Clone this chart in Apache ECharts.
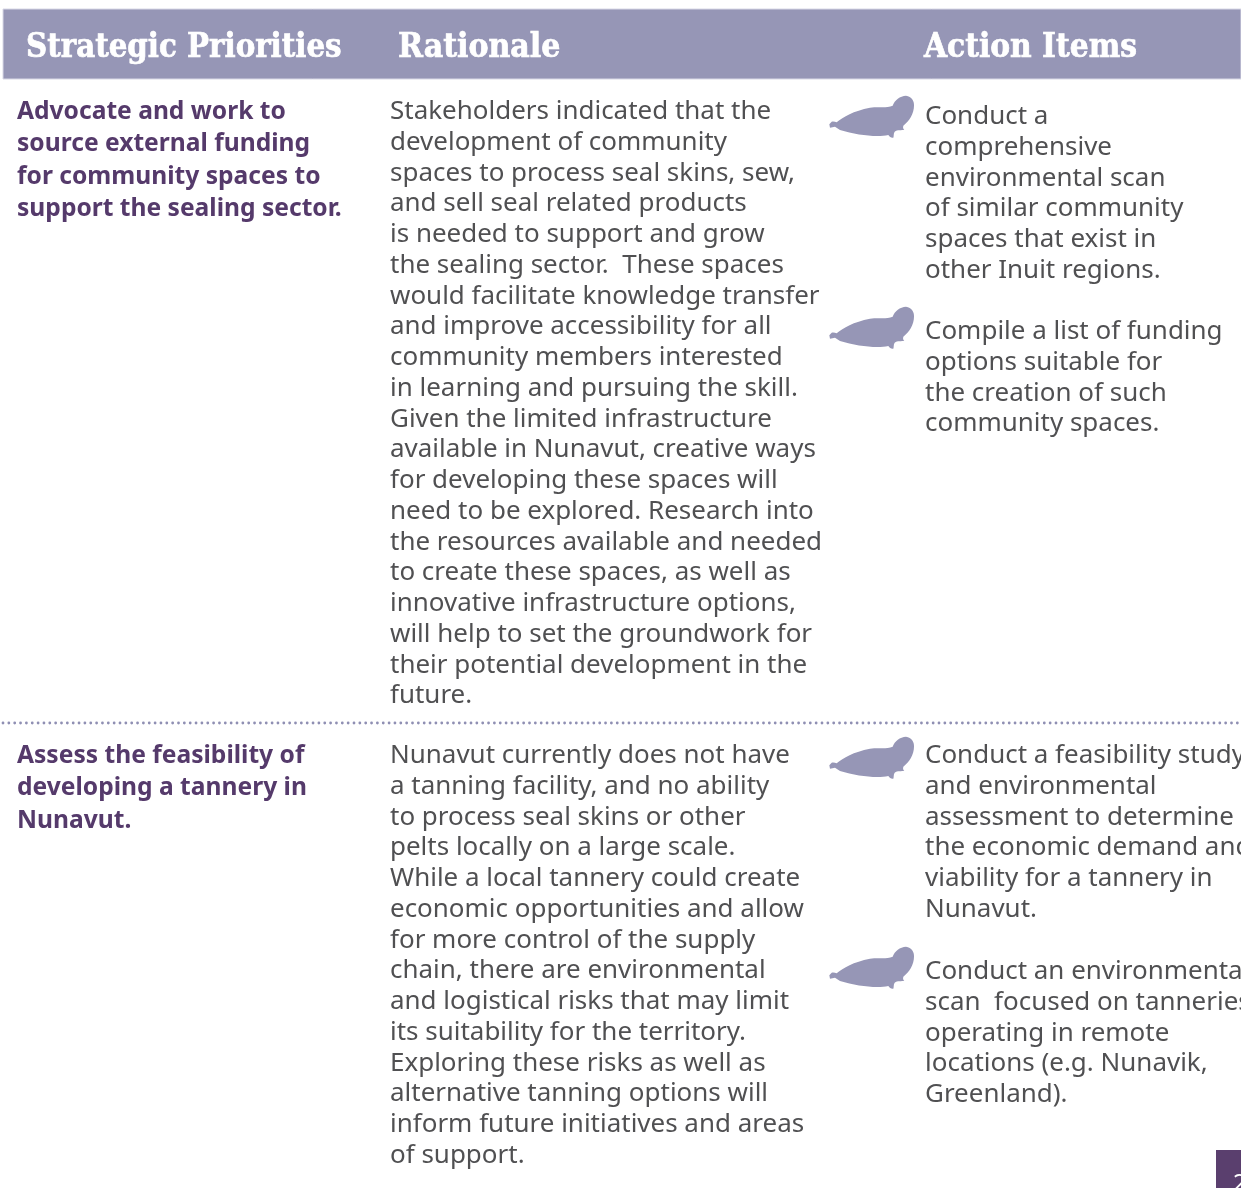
<!DOCTYPE html>
<html>
<head>
<meta charset="utf-8">
<style>html,body{margin:0;background:#fff}#main{width:1241px;height:1188px}</style>
<script src="https://cdn.jsdelivr.net/npm/echarts@6/dist/echarts.min.js"></script>
</head>
<body>
<div id="main"></div>
<script>
var headers = ['Strategic Priorities', 'Rationale', 'Action Items'];
var priorities1 = ['Advocate and work to', 'source external funding', 'for community spaces to', 'support the sealing sector.'];
var priorities2 = ['Assess the feasibility of', 'developing a tannery in', 'Nunavut.'];
var rationale1 = ['Stakeholders indicated that the', 'development of community', 'spaces to process seal skins, sew,', 'and sell seal related products', 'is needed to support and grow', 'the sealing sector.  These spaces', 'would facilitate knowledge transfer', 'and improve accessibility for all', 'community members interested', 'in learning and pursuing the skill.', 'Given the limited infrastructure', 'available in Nunavut, creative ways', 'for developing these spaces will', 'need to be explored. Research into', 'the resources available and needed', 'to create these spaces, as well as', 'innovative infrastructure options,', 'will help to set the groundwork for', 'their potential development in the', 'future.'];
var rationale2 = ['Nunavut currently does not have', 'a tanning facility, and no ability', 'to process seal skins or other', 'pelts locally on a large scale.', 'While a local tannery could create', 'economic opportunities and allow', 'for more control of the supply', 'chain, there are environmental', 'and logistical risks that may limit', 'its suitability for the territory.', 'Exploring these risks as well as', 'alternative tanning options will', 'inform future initiatives and areas', 'of support.'];
var actions1a = ['Conduct a', 'comprehensive', 'environmental scan', 'of similar community', 'spaces that exist in', 'other Inuit regions.'];
var actions1b = ['Compile a list of funding', 'options suitable for', 'the creation of such', 'community spaces.'];
var actions2a = ['Conduct a feasibility study', 'and environmental', 'assessment to determine', 'the economic demand and', 'viability for a tannery in', 'Nunavut.'];
var actions2b = ['Conduct an environmental', 'scan  focused on tanneries', 'operating in remote', 'locations (e.g. Nunavik,', 'Greenland).'];
var pageNumber = '2';

var bodyFont = '24.5px "Noto Sans"';
var bodyStretch = 1.06;
var boldFont = '700 24.6px "Noto Sans"';
var headFont = '700 32.6px "DejaVu Serif Condensed"';
var bodyColor = '#505052';
var purple = '#553a6b';
var lilac = '#9696b6';
var sealPath = 'M28 118 L35 110 C40 109 46 110 50 112 C70 95 100 78 150 68 C175 64 200 70 218 62 C224 45 240 33 258 32 C275 34 283 48 282 62 C282 85 268 108 250 122 C248 128 250 132 253 135 C245 136 232 134 224 140 C220 146 222 153 220 158 C215 160 208 155 205 150 C170 158 110 150 60 135 L45 125 L30 128 Z';

echarts.graphic.registerShape('seal', echarts.graphic.extendPath(sealPath, {}));

var graphic = [];
// one text element per printed line, the line breaks are the ones in the picture
function block(lines, x, y, pitch, font, fill, stretch, thicken) {
    lines.forEach(function (line, i) {
        graphic.push({
            type: 'text', x: x, y: y + i * pitch, scaleX: stretch || 1,
            style: { text: line, font: font, fill: fill, verticalAlign: 'middle', stroke: thicken ? fill : null, lineWidth: thicken || 0 }
        });
    });
}
function seal(x, y) {
    graphic.push({
        type: 'seal', x: x, y: y, scaleX: 1 / 3, scaleY: 1 / 3,
        style: { fill: lilac }
    });
}

graphic.push({ type: 'rect', shape: { x: 3, y: 9, width: 1238, height: 70 }, style: { fill: lilac, stroke: '#d8d8e6', lineWidth: 1 } });
block([headers[0]], 26, 49, 0, headFont, '#fff', 1, 0.7);
block([headers[1]], 398, 49, 0, headFont, '#fff', 1.025, 0.7);
block([headers[2]], 924, 49, 0, headFont, '#fff', 1.015, 0.7);

block(priorities1, 17, 112, 32.4, boldFont, purple);
block(priorities2, 17, 756, 32.4, boldFont, purple);
block(rationale1, 390, 112, 30.76, bodyFont, bodyColor, bodyStretch);
block(rationale2, 390, 756, 30.76, bodyFont, bodyColor, bodyStretch);
block(actions1a, 925, 117, 30.76, bodyFont, bodyColor, bodyStretch);
block(actions1b, 925, 332, 30.76, bodyFont, bodyColor, bodyStretch);
block(actions2a, 925, 756, 30.76, bodyFont, bodyColor, bodyStretch);
block(actions2b, 925, 972, 30.76, bodyFont, bodyColor, bodyStretch);

seal(820, 85);
seal(820, 296);
seal(820, 726);
seal(820, 936);

graphic.push({
    type: 'line', shape: { x1: 3, y1: 723, x2: 1245, y2: 723 },
    style: { stroke: '#8f8fb3', lineWidth: 2.8, lineDash: [0, 5.85], lineCap: 'round' }
});

graphic.push({ type: 'rect', shape: { x: 1216, y: 1150, width: 25, height: 38 }, style: { fill: '#5a3f6e' } });
block([pageNumber], 1233, 1184, 0, '24px "Noto Sans"', '#fff');

var chart = echarts.init(document.getElementById('main'), null, { renderer: 'canvas' });
chart.setOption({ animation: false, backgroundColor: '#fff', graphic: graphic });
</script>
</body>
</html>
